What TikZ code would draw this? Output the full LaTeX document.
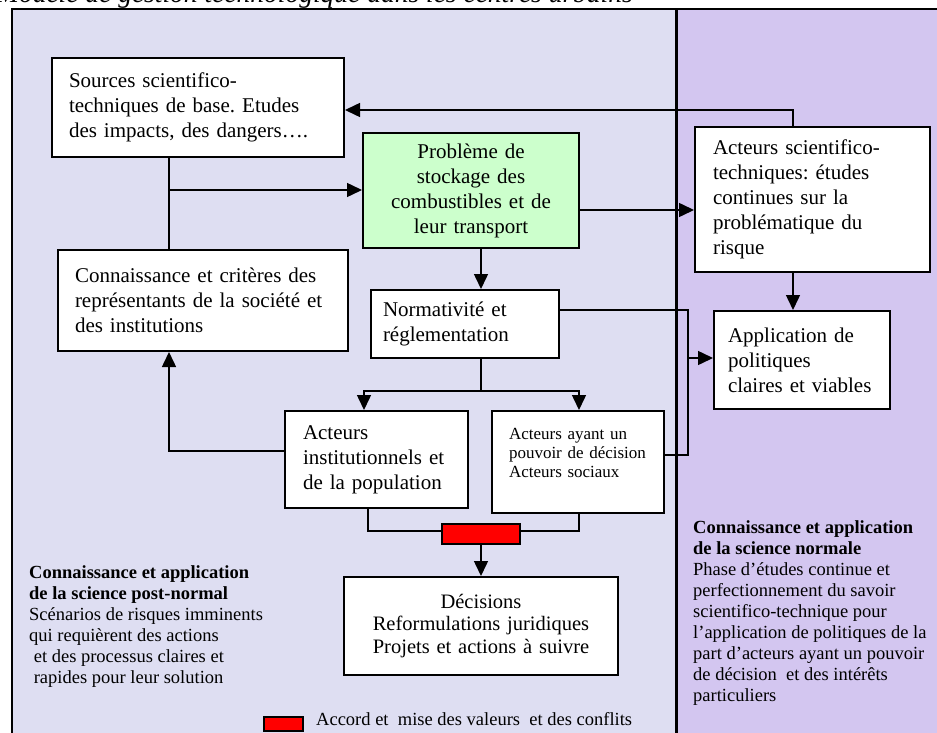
\documentclass[tikz,border=0pt]{standalone}
\usepackage{fontspec}
\setmainfont{Liberation Serif}
\usetikzlibrary{arrows.meta}
\frenchspacing

\definecolor{postbg}{RGB}{222,222,242}
\definecolor{normbg}{RGB}{211,198,240}
\definecolor{probfill}{RGB}{204,255,204}
\definecolor{accordred}{RGB}{255,0,0}

\newcommand\fsmain{\fontsize{21}{25}\selectfont}
\newcommand\fssmall{\fontsize{17}{19}\selectfont}
\newcommand\fslabel{\fontsize{18.5}{21}\selectfont}
\newcommand\fsdec{\fontsize{20.5}{22.5}\selectfont}
\newcommand\fstitle{\fontsize{27.5}{30}\selectfont\itshape}

\tikzset{
  box/.style={draw=black, line width=2pt, fill=white, font=\fsmain,
    align=left, inner ysep=0pt},
  arr/.style={line width=1.5pt, -{Triangle[length=15pt,width=14pt]}},
  link/.style={line width=1.5pt},
  note/.style={font=\fslabel, align=left, inner sep=0pt, anchor=north west},
}

\begin{document}
\begin{tikzpicture}[x=1pt,y=-1pt]
\useasboundingbox (0,0) rectangle (937,733);
\clip (0,0) rectangle (937,733);

% page title, running off the top edge
\node[font=\fstitle, anchor=base east, inner sep=0pt] (title) at (633,3)
  {Modèle de gestion technologique dans les centres urbains};

% the two panels: post-normal science (left) and normal science (right)
\fill[postbg] (12,9) rectangle (676,760);
\fill[normbg] (676,9) rectangle (950,760);
\draw[line width=2pt] (12,760) -- (12,9) -- (950,9);
\draw[line width=3pt] (676,9) -- (676,760);

% boxes
\node[box, text width=258pt, inner xsep=17pt, minimum height=99pt] (src) at (198,107.5)
  {Sources scientifico-\\techniques de base. Etudes\\des impacts, des dangers….};
\node[box, fill=probfill, align=center, text width=196pt, inner xsep=10pt,
  minimum height=115pt] (prob) at (471,190.5)
  {Problème de\\stockage des\\combustibles et de\\leur transport};
\node[box, text width=199pt, inner xsep=18pt, minimum height=145pt] (sci) at (812.5,199.5)
  {Acteurs scientifico-\\techniques: études\\continues sur la\\problématique du\\risque};
\node[box, text width=256pt, inner xsep=17pt, minimum height=101pt] (conn) at (203,300.5)
  {Connaissance et critères des\\représentants de la société et\\des institutions};
\node[box, text width=164pt, inner xsep=12pt, minimum height=68pt] (norm) at (465,324)
  {Normativité et\\réglementation};
\node[box, text width=148pt, inner xsep=14pt, minimum height=98pt] (app) at (802,360)
  {Application de\\politiques\\claires et viables};
\node[box, text width=147pt, inner xsep=18pt, minimum height=97pt] (inst) at (376.5,459.5)
  {Acteurs\\institutionnels et\\de la population};
\node[box, font=\fssmall, text width=138pt, inner xsep=17pt, minimum height=102pt] (pouv) at (578,462)
  {Acteurs ayant un\\pouvoir de décision\\Acteurs sociaux\\\mbox{}};
\node[draw=black, line width=1.5pt, fill=accordred, minimum width=78pt,
  minimum height=20pt, inner sep=0pt] (accord) at (481,534) {};
\node[box, font=\fsdec, align=center, text width=254pt, inner xsep=10pt,
  minimum height=98pt] (dec) at (481,626)
  {Décisions\\Reformulations juridiques\\Projets et actions à suivre};

% bend and junction points of the connectors
\coordinate (sp) at (481,0);
\coordinate (j1) at (793,110);
\coordinate (c1) at (169,190);
\coordinate (c2) at (600,210);
\coordinate (c3) at (688,310);
\coordinate (c4) at (688,455);
\coordinate (c5) at (688,358);
\coordinate (b1) at (481,391);
\coordinate (bl) at (364,391);
\coordinate (br) at (579,391);
\coordinate (c7) at (169,451);
\coordinate (c8) at (368,531);
\coordinate (c9) at (579,531);

% connectors
\draw[arr] (sci.north -| j1) -- (j1) -- (j1 -| src.east);
\draw[link] (src.south -| c1) -- (conn.north -| c1);
\draw[arr] (c1) -- (c1 -| prob.west);
\draw[arr] (prob.east |- c2) -- (sci.west |- c2);
\draw[arr] (prob.south -| sp) -- (norm.north -| sp);
\draw[arr] (sci.south -| j1) -- (app.north -| j1);
\draw[link] (norm.east |- c3) -- (c3) -- (c4) -- (c4 -| pouv.east);
\draw[arr] (c5) -- (c5 -| app.west);
\draw[link] (norm.south -| b1) -- (b1);
\draw[arr] (b1) -- (bl) -- (inst.north -| bl);
\draw[arr] (b1) -- (br) -- (pouv.north -| br);
\draw[arr] (inst.west |- c7) -- (c7) -- (conn.south -| c7);
\draw[link] (inst.south -| c8) -- (c8) -- (c8 -| accord.west);
\draw[link] (c9 -| accord.east) -- (c9) -- (pouv.south -| c9);
\draw[arr] (accord.south -| sp) -- (dec.north -| sp);

% panel captions
\node[note] (postlabel) at (29,565)
  {\textbf{Connaissance et application}\\
   \textbf{de la science post-normal}\\
   Scénarios de risques imminents\\
   qui requièrent des actions\\
   \hspace*{0.25em}et des processus claires et\\
   \hspace*{0.25em}rapides pour leur solution};
\node[note] (normlabel) at (693,520)
  {\textbf{Connaissance et application}\\
   \textbf{de la science normale}\\
   Phase d’études continue et\\
   perfectionnement du savoir\\
   scientifico-technique pour\\
   l’application de politiques de la\\
   part d’acteurs ayant un pouvoir\\
   de décision\ \ et des intérêts\\
   particuliers};

% legend
\node[draw=black, line width=1.5pt, fill=accordred, minimum width=39pt,
  minimum height=14pt, inner sep=0pt] (legbox) at (283.5,724) {};
\node[font=\fslabel, anchor=base west, inner sep=0pt] (legtext) at (316,725)
  {Accord et\ \ mise des valeurs\ \ et des conflits};
\end{tikzpicture}
\end{document}
